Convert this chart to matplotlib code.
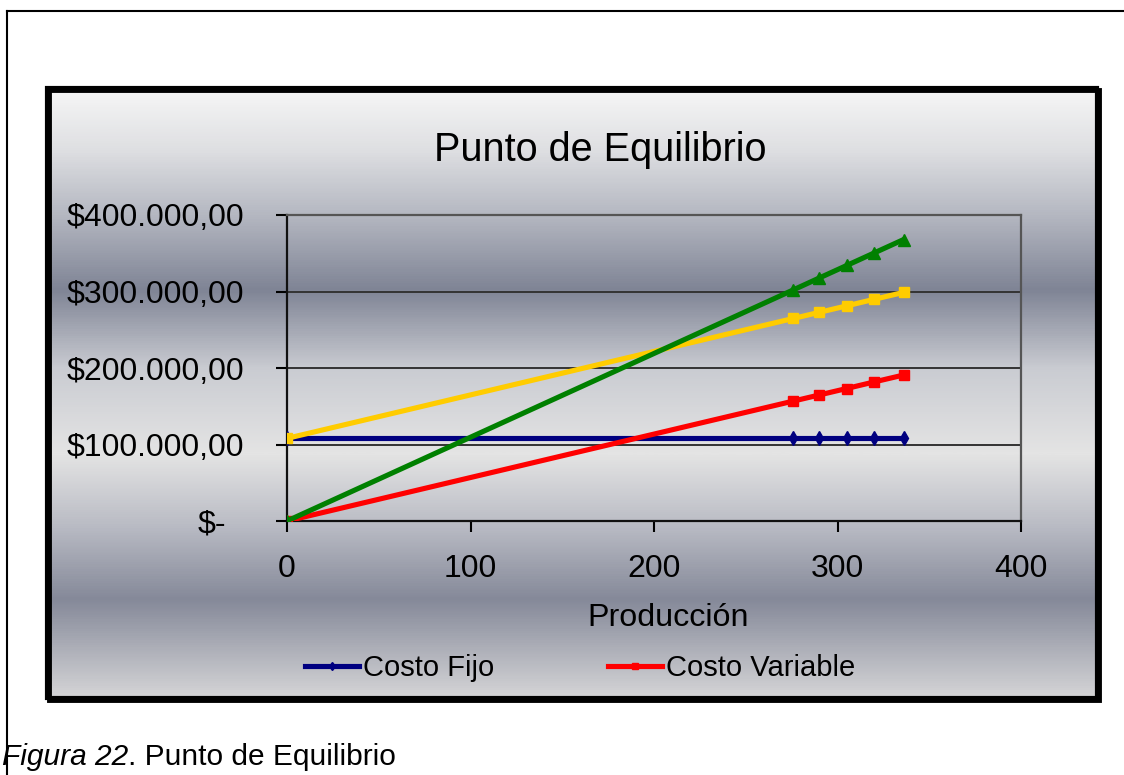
import numpy as np
import matplotlib
matplotlib.use("Agg")
import matplotlib.pyplot as plt
from matplotlib.colors import LinearSegmentedColormap
from matplotlib.patches import Rectangle
from matplotlib.lines import Line2D
from matplotlib.transforms import ScaledTranslation

plt.rcParams['font.family'] = ['Liberation Sans', 'DejaVu Sans']

# units produced and the cost / income lines
produccion = [0, 276, 290, 305, 320, 336]
costo_fijo = [108000, 108000, 108000, 108000, 108000, 108000]
costo_variable = [0, 156800, 164700, 173200, 181800, 190800]
costo_total = [108000, 264800, 272700, 281200, 289800, 298800]
ingreso = [0, 302200, 317600, 334000, 350400, 367900]

y_ticks = [0, 100000, 200000, 300000, 400000]
y_labels = ["$-", "$100.000,00", "$200.000,00", "$300.000,00", "$400.000,00"]
x_ticks = [0, 100, 200, 300, 400]

W, H = 1124, 775
fig = plt.figure(figsize=(W / 100, H / 100), dpi=100)
fig.patch.set_facecolor("white")


def fx(px):
    return px / W


def fy(py):
    return 1 - py / H


# outer page frame (left and top edges)
fig.add_artist(Line2D([fx(7), fx(7)], [fy(11), 0], transform=fig.transFigure,
                      color="black", lw=1.5))
fig.add_artist(Line2D([fx(7), 1], [fy(11), fy(11)], transform=fig.transFigure,
                      color="black", lw=1.5))

# chart area with banded gray gradient
box_l, box_t, box_r, box_b = 47, 88, 1097, 698
bg = fig.add_axes([fx(box_l), fy(box_b), fx(box_r - box_l), (box_b - box_t) / H])
stops = [(0.0, "#f6f6f6"), (0.10, "#dedfe2"), (0.21, "#b3b6c0"),
         (0.33, "#7f8495"), (0.46, "#caccd2"), (0.60, "#e4e4e4"),
         (0.72, "#b9bbc4"), (0.84, "#858999"), (1.0, "#d4d4d6")]
cmap = LinearSegmentedColormap.from_list("banda", stops)
grad = np.linspace(0, 1, 600).reshape(-1, 1)
bg.imshow(grad, aspect="auto", cmap=cmap, extent=[0, 1, 0, 1], origin="upper")
bg.set_axis_off()
fig.add_artist(Rectangle((fx(box_l + 2), fy(box_b + 2)), fx(box_r - box_l), (box_b - box_t) / H,
                         transform=fig.transFigure, fill=False, ec="black", lw=3.5, zorder=2))
fig.add_artist(Rectangle((fx(box_l), fy(box_b)), fx(box_r - box_l), (box_b - box_t) / H,
                         transform=fig.transFigure, fill=False, ec="black", lw=3, zorder=3))

# plot area
ax = fig.add_axes([fx(287), fy(521), fx(1021 - 287), (521 - 215) / H])
ax.patch.set_alpha(0)
ax.set_xlim(0, 400)
ax.set_ylim(0, 400000)

lw = 3.7
ax.plot(produccion, costo_fijo, color="#000080", lw=lw, marker="d", ms=7.5,
        label="Costo Fijo", zorder=3)
ax.plot(produccion, costo_variable, color="#ff0000", lw=lw, marker="s", ms=7.5,
        label="Costo Variable", zorder=4)
ax.plot(produccion, costo_total, color="#ffcc00", lw=lw, marker="s", ms=7.5,
        label="Costo Total", zorder=5)
ax.plot(produccion, ingreso, color="#008000", lw=lw, marker="^", ms=9,
        label="Ingreso", zorder=6)

ax.set_yticks(y_ticks)
ax.set_yticklabels(y_labels)
ax.set_xticks(x_ticks)
ax.yaxis.grid(True, color="#333333", lw=1.4)
ax.set_axisbelow(True)
ax.tick_params(axis="y", direction="out", length=8, width=1.5, pad=23, labelsize=23)
ax.tick_params(axis="x", direction="out", length=8, width=1.5, pad=16, labelsize=23)
for side in ["left", "bottom"]:
    ax.spines[side].set_linewidth(1.6)
    ax.spines[side].set_color("#111111")
for side in ["top", "right"]:
    ax.spines[side].set_linewidth(1.6)
    ax.spines[side].set_color("#555555")

# accounting-style "$-" sits left of the other labels
zero_lbl = ax.get_yticklabels()[0]
zero_lbl.set_transform(zero_lbl.get_transform() + ScaledTranslation(-0.18, 0, fig.dpi_scale_trans))

fig.text(fx(600), fy(150), "Punto de Equilibrio", ha="center", va="center", fontsize=28.5)
fig.text(fx(668), fy(618), "Producción", ha="center", va="center", fontsize=23.2)

handles, labels = ax.get_legend_handles_labels()
leg = fig.legend(handles[:2], labels[:2], loc="center", bbox_to_anchor=(fx(580), fy(668)),
                 ncol=2, frameon=False, fontsize=21, handlelength=1.85, handletextpad=0.15,
                 columnspacing=3.9, markerscale=0.6)

# caption under the chart
cap = fig.text(fx(2), fy(757), "Figura 22", style="italic", ha="left", va="center", fontsize=21.5)
bg.annotate(". Punto de Equilibrio", xy=(1, 0), xycoords=cap, ha="left", va="bottom",
            fontsize=21.5, annotation_clip=False)

fig.savefig("out.png", dpi=100)
